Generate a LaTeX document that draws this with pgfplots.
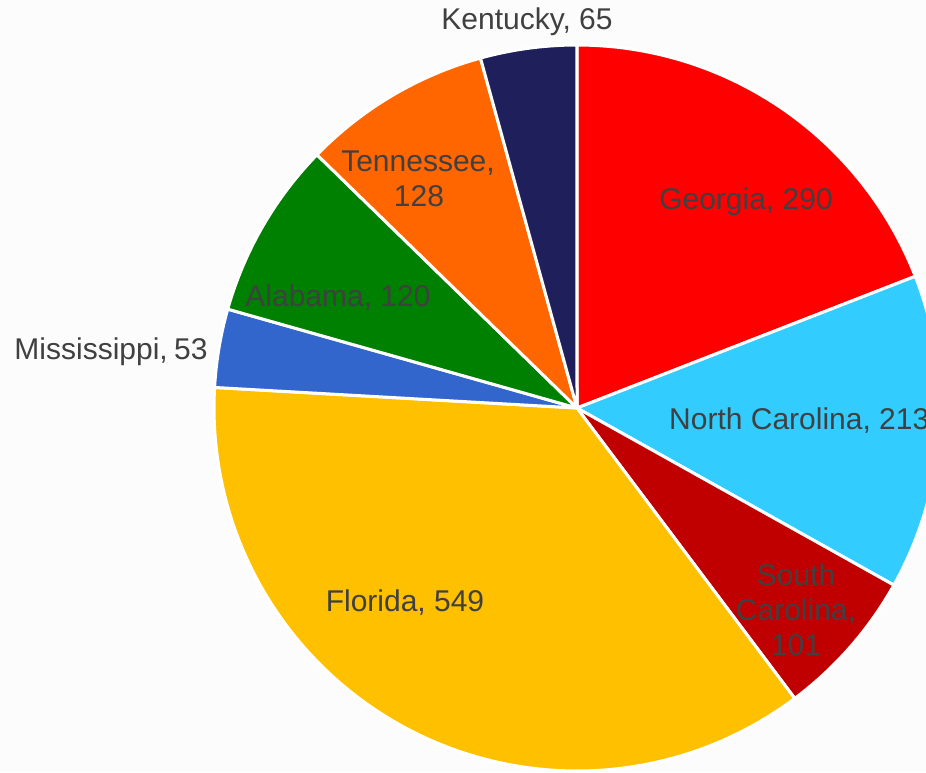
\documentclass[border=0pt]{standalone}
\usepackage{pgfplots}
\pgfplotsset{compat=1.18}
\usepackage{fontspec}
\setmainfont{Liberation Sans}
\definecolor{cGA}{HTML}{FF0000}
\definecolor{cNC}{HTML}{33CCFF}
\definecolor{cSC}{HTML}{C00000}
\definecolor{cFL}{HTML}{FFC000}
\definecolor{cMS}{HTML}{3366CC}
\definecolor{cAL}{HTML}{008000}
\definecolor{cTN}{HTML}{FF6600}
\definecolor{cKY}{HTML}{1F1F5C}
\definecolor{txt}{HTML}{404040}
\definecolor{bg}{HTML}{FCFCFC}
% data (values)
\def\vGA{290}\def\vNC{213}\def\vSC{101}\def\vFL{549}
\def\vMS{53}\def\vAL{120}\def\vTN{128}\def\vKY{65}
\pgfmathsetmacro{\total}{\vGA+\vNC+\vSC+\vFL+\vMS+\vAL+\vTN+\vKY}
% cumulative angles, clockwise from 90 degrees
\pgfmathsetmacro{\aA}{90}
\pgfmathsetmacro{\aB}{\aA-360*(\vGA/\total)}
\pgfmathsetmacro{\aC}{\aB-360*(\vNC/\total)}
\pgfmathsetmacro{\aD}{\aC-360*(\vSC/\total)}
\pgfmathsetmacro{\aE}{\aD-360*(\vFL/\total)}
\pgfmathsetmacro{\aF}{\aE-360*(\vMS/\total)}
\pgfmathsetmacro{\aG}{\aF-360*(\vAL/\total)}
\pgfmathsetmacro{\aH}{\aG-360*(\vTN/\total)}
\pgfmathsetmacro{\aI}{\aH-360*(\vKY/\total)}
\newcommand{\wedgeplot}[3]{%
  \addplot[fill=#3, draw=white, line width=3pt, line join=round,
    domain=#2:#1, samples=80, variable=\t]
    ({577+363*cos(\t)}, {408-363*sin(\t)}) -- (axis cs:577,408) -- cycle;
}
\tikzset{lbl/.style={font=\fontsize{30}{35}\selectfont, text=txt, inner sep=0pt}}
\begin{document}
\begin{tikzpicture}
\begin{axis}[x=1pt, y=1pt, xmin=0, xmax=926, ymin=0, ymax=772,
  y dir=reverse, hide axis, clip=true]
\fill[bg] (axis cs:0,0) rectangle (axis cs:926,772);
\wedgeplot{\aA}{\aB}{cGA}
\wedgeplot{\aB}{\aC}{cNC}
\wedgeplot{\aC}{\aD}{cSC}
\wedgeplot{\aD}{\aE}{cFL}
\wedgeplot{\aE}{\aF}{cMS}
\wedgeplot{\aF}{\aG}{cAL}
\wedgeplot{\aG}{\aH}{cTN}
\wedgeplot{\aH}{\aI}{cKY}
\node[lbl, anchor=base] at (axis cs:527,29) {Kentucky, 65};
\node[lbl, anchor=base] at (axis cs:746,209) {Georgia, 290};
\node[lbl, anchor=base west] at (axis cs:669,429) {North Carolina, 213};
\node[lbl, anchor=base] at (axis cs:796,585) {South};
\node[lbl, anchor=base] at (axis cs:796,620) {Carolina,};
\node[lbl, anchor=base] at (axis cs:796,655) {101};
\node[lbl, anchor=base] at (axis cs:405,611) {Florida, 549};
\node[lbl, anchor=base] at (axis cs:111,359) {Mississippi,\kern-2pt\ 53};
\node[lbl, anchor=base] at (axis cs:338,306) {Alabama, 120};
\node[lbl, anchor=base] at (axis cs:418,171) {Tennessee,};
\node[lbl, anchor=base] at (axis cs:419,206) {128};
\end{axis}
\end{tikzpicture}
\end{document}
